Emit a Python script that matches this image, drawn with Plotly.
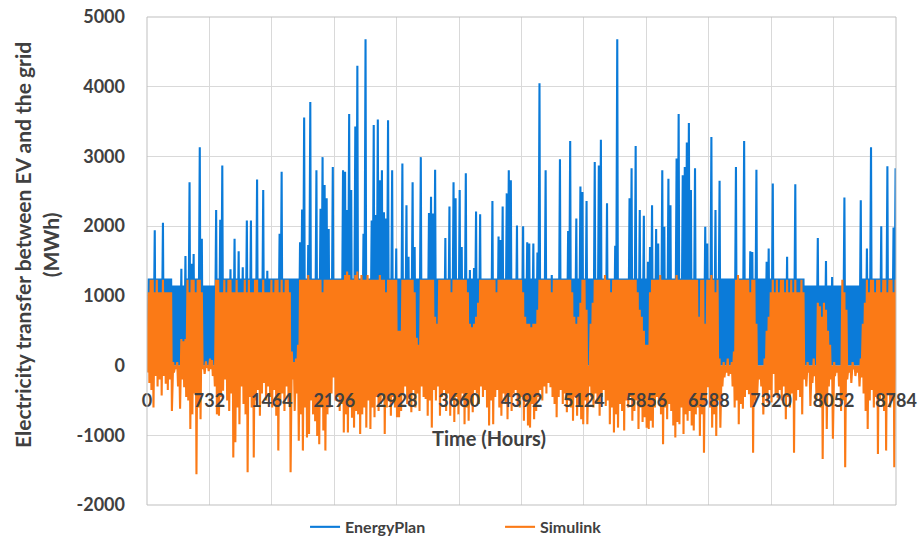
import plotly.graph_objects as go

# ---------------- data (one value per day) ----------------
# daily maximum / minimum of the hourly EnergyPlan series (MWh)
EP_hi = [
    1250, 1250, 1250, 1940, 1250, 1250, 1250, 2050, 1250, 1250,
    1250, 1250, 1150, 1150, 1150, 1150, 1390, 1150, 1570, 1250,
    2630, 1460, 1600, 1250, 1250, 3130, 1820, 1150, 1150, 1150,
    1150, 1150, 1150, 2230, 1250, 2090, 2870, 1250, 1250, 1250,
    1380, 1250, 1820, 1250, 1640, 1250, 1410, 1250, 2080, 1250,
    2080, 1250, 1250, 2670, 1250, 1250, 2520, 1250, 1360, 1250,
    1250, 1250, 1250, 1250, 1890, 2780, 1250, 1250, 1250, 1250,
    1250, 1250, 1250, 1250, 1770, 2240, 3560, 1250, 1730, 3780,
    1250, 1250, 2800, 1250, 2250, 2990, 2590, 2400, 1960, 1250,
    2850, 1250, 1250, 1250, 1250, 2800, 2780, 2230, 3610, 2520,
    1250, 3430, 4300, 1250, 1250, 1890, 4680, 1250, 1250, 2080,
    3450, 2160, 3530, 2660, 2800, 2200, 2110, 3520, 1250, 2800,
    1250, 1680, 1250, 1250, 2900, 1250, 2300, 1560, 1250, 2630,
    1700, 1250, 1250, 2990, 1250, 1250, 1250, 2190, 2420, 2180,
    2810, 1250, 1250, 1250, 1250, 1830, 1250, 2280, 1250, 2630,
    2400, 1250, 2520, 1700, 1250, 2760, 1250, 1370, 1250, 1400,
    2210, 1250, 2170, 1250, 1250, 1250, 1250, 1250, 2360, 1250,
    1250, 1850, 1800, 2280, 1250, 2470, 2800, 2660, 1250, 1250,
    2010, 1250, 1250, 2000, 1250, 1770, 1750, 1250, 1750, 1250,
    1620, 4050, 1250, 1250, 2800, 1250, 1250, 1300, 1250, 1250,
    1250, 2960, 1250, 1250, 1250, 1930, 3220, 1250, 1250, 2110,
    1250, 2570, 2490, 1250, 2360, 1250, 1250, 1250, 2920, 1250,
    2870, 3240, 1250, 1250, 2330, 1250, 1250, 1250, 1720, 4680,
    1250, 1250, 1250, 1250, 1250, 2400, 2830, 1250, 3150, 1250,
    2230, 1250, 2150, 1250, 1490, 1700, 2300, 1250, 1960, 1750,
    1250, 2800, 1990, 1250, 2680, 2300, 1250, 1250, 2970, 3610,
    1250, 2730, 2850, 3200, 3480, 2520, 1250, 2830, 1250, 1250,
    1250, 1250, 1990, 1750, 1250, 3280, 1250, 2230, 1250, 2650,
    1250, 1250, 1250, 1250, 1250, 1250, 1250, 2850, 1250, 1250,
    1250, 3220, 1250, 1250, 1640, 1630, 1250, 2810, 1250, 1250,
    1250, 1250, 1490, 1680, 1250, 2610, 1250, 1250, 1250, 1250,
    1250, 1250, 1560, 1250, 1250, 1250, 2600, 1250, 1250, 1250,
    1250, 1150, 1150, 1150, 1150, 1150, 1150, 1830, 1150, 1150,
    1150, 1500, 1150, 1150, 1270, 1150, 1150, 1150, 1150, 1150,
    2410, 1150, 1150, 1150, 1150, 1150, 1150, 1150, 2370, 1250,
    1250, 1680, 1250, 3130, 1250, 1250, 1250, 1250, 2000, 1250,
    1250, 2860, 1250, 1250, 1980, 2830,
]
EP_lo = [
    -50, 0, 0, 0, 0, 0, 0, 0, 0, 0, 0, 0, 0, 0, 0, 0, 0, 0, 0, 0,
    0, 0, 0, 0, 0, 0, 0, 0, 0, 0, 0, 0, 0, 0, 0, 0, 0, 0, 0, 0,
    0, 0, 0, 0, 0, 0, 0, 0, 0, 0, 0, 0, 0, 0, 0, 0, 0, 0, 0, 0,
    0, 0, 0, 0, 0, 0, 0, 0, 0, 0, 0, 0, 0, 0, 0, 0, 0, 0, 0, 0,
    0, 0, 0, 0, 0, 0, 0, 0, 0, 0, 0, 0, 0, 0, 0, 0, 0, 0, 0, 0,
    0, 0, 0, 0, 0, 0, 0, 0, 0, 0, 0, 0, 0, 0, 0, 0, 0, 0, 0, 0,
    0, 0, 0, 0, 0, 0, 0, 0, 0, 0, 0, 0, 0, 0, 0, 0, 0, 0, 0, 0,
    0, 0, 0, 0, 0, 0, 0, 0, 0, 0, 0, 0, 0, 0, 0, 0, 0, 0, 0, 0,
    0, 0, 0, 0, 0, 0, 0, 0, 0, 0, 0, 0, 0, 0, 0, 0, 0, 0, 0, 0,
    0, 0, 0, 0, 0, 0, 0, 0, 0, 0, 0, 0, 0, 0, 0, 0, 0, 0, 0, 0,
    0, 0, 0, 0, 0, 0, 0, 0, 0, 0, 0, 0, 0, 0, 0, 0, 0, 0, 0, 0,
    0, 0, 0, 0, 0, 0, 0, 0, 0, 0, 0, 0, 0, 0, 0, 0, 0, 0, 0, 0,
    0, 0, 0, 0, 0, 0, 0, 0, 0, 0, 0, 0, 0, 0, 0, 0, 0, 0, 0, 0,
    0, 0, 0, 0, 0, 0, 0, 0, 0, 0, 0, 0, 0, 0, 0, 0, 0, 0, 0, 0,
    0, 0, 0, 0, 0, 0, 0, 0, 0, 0, 0, 0, 0, 0, 0, 0, 0, 0, 0, 0,
    0, 0, 0, 0, 0, 0, 0, 0, 0, 0, 0, 0, 0, 0, 0, 0, 0, 0, 0, 0,
    0, 0, 0, 0, 0, 0, 0, 0, 0, 0, 0, 0, 0, 0, 0, 0, 0, 0, 0, 0,
    0, 0, 0, 0, 0, 0, 0, 0, 0, 0, 0, 0, 0, 0, 0, 0, 0, 0, 0, 0,
    0, 0, 0, 0, 0, 0,
]

# daily maximum / minimum of the hourly Simulink series (MWh)
SL_hi = [
    1050, 1230, 1230, 1050, 1230, 1050, 1050, 1230, 1050, 1050,
    1050, 1050, 50, 0, 50, 0, 380, 350, 380, 1230,
    1050, 1230, 1230, 1050, 1230, 1230, 1050, 0, 60, 0,
    100, 80, 0, 1230, 1230, 1050, 1050, 1230, 1050, 1230,
    1230, 1050, 1050, 1230, 1050, 1050, 1050, 1230, 1050, 1230,
    1050, 1050, 1230, 1230, 1050, 1050, 1230, 1050, 1050, 1050,
    1230, 1050, 1230, 1230, 1050, 1230, 1050, 1230, 1230, 1050,
    200, 50, 100, 300, 1230, 1230, 1230, 1230, 1300, 1230,
    1230, 1230, 1230, 1230, 1230, 1050, 1230, 1230, 1230, 1230,
    1230, 1230, 1230, 1230, 1230, 1230, 1300, 1350, 1300, 1230,
    1230, 1300, 1350, 1230, 1300, 1230, 1230, 1300, 1230, 1230,
    1230, 1230, 1230, 1300, 1230, 1230, 1050, 1230, 1230, 1230,
    1230, 1230, 500, 500, 1230, 1230, 1230, 1230, 1230, 1230,
    1050, 400, 300, 1230, 1230, 1230, 1230, 1230, 1230, 1230,
    700, 600, 1230, 1230, 1230, 1230, 1230, 1230, 1050, 1230,
    1230, 1230, 1230, 1230, 1230, 1230, 1050, 600, 550, 600,
    700, 900, 1230, 1230, 1230, 1230, 1230, 1230, 1230, 1230,
    1050, 1230, 1230, 1230, 1230, 1230, 1230, 1230, 1230, 1230,
    1230, 1230, 1230, 1050, 700, 600, 600, 550, 600, 600,
    800, 1230, 1230, 1230, 1230, 1230, 1230, 1050, 1230, 1230,
    1230, 1230, 1230, 1230, 1230, 1230, 1230, 1050, 700, 600,
    700, 900, 1230, 1230, 800, 0, 600, 900, 1230, 1230,
    1230, 1230, 1230, 1300, 1230, 1230, 1050, 1230, 1230, 1230,
    1230, 1230, 1230, 1230, 1230, 1230, 1230, 1230, 1230, 1050,
    800, 700, 500, 300, 300, 1050, 1230, 1230, 1230, 1230,
    1300, 1230, 1230, 1230, 1230, 1230, 1230, 1230, 1300, 1230,
    1230, 1230, 1230, 1230, 1230, 1230, 1230, 1230, 1230, 700,
    1230, 1230, 600, 1230, 1230, 1300, 1230, 1050, 1230, 100,
    0, 50, 0, 100, 0, 50, 200, 1230, 1300, 1230,
    1230, 1230, 1230, 1230, 1050, 1230, 1230, 600, 0, 0,
    0, 100, 500, 700, 1050, 1230, 1050, 1230, 1050, 1230,
    1230, 1050, 1230, 1050, 1230, 1050, 1230, 1050, 1050, 1230,
    1050, 0, 50, 0, 0, 100, 0, 900, 850, 700,
    900, 800, 500, 300, 0, 50, 0, 0, 0, 1230,
    1050, 800, 0, 0, 50, 0, 0, 0, 100, 600,
    900, 1230, 1050, 1230, 1230, 1050, 1230, 1230, 1050, 1230,
    1230, 1050, 1230, 1230, 1050, 1230,
]
SL_lo = [
    -100, -250, -350, -600, -150, -300, -200, -430, -150, -260,
    -350, -200, -650, -100, -50, -300, -620, -200, -310, -450,
    -500, -910, -700, -400, -1560, -600, -770, -50, -120, -30,
    -80, -50, -150, -300, -700, -720, -450, -360, -200, -500,
    -650, -400, -1320, -1100, -600, -840, -300, -550, -700, -1530,
    -450, -600, -1320, -500, -350, -720, -400, -250, -500, -300,
    -450, -600, -350, -720, -1220, -500, -400, -650, -300, -550,
    -1530, -200, -650, -400, -1080, -700, -1220, -600, -1030, -980,
    -500, -700, -800, -1010, -1130, -600, -930, -1220, -700, -600,
    -400, -170, -500, -450, -650, -550, -960, -700, -960, -600,
    -750, -890, -650, -700, -980, -700, -600, -890, -500, -910,
    -600, -740, -450, -650, -550, -400, -980, -600, -500, -720,
    -450, -600, -740, -740, -650, -400, -300, -550, -450, -670,
    -350, -600, -400, -650, -300, -450, -480, -720, -500, -890,
    -350, -500, -300, -720, -450, -350, -650, -400, -720, -500,
    -810, -450, -700, -550, -400, -840, -600, -790, -450, -670,
    -350, -400, -550, -300, -450, -350, -600, -860, -500, -840,
    -450, -350, -600, -720, -400, -550, -770, -450, -650, -400,
    -350, -580, -600, -450, -790, -500, -860, -890, -550, -770,
    -650, -450, -350, -500, -300, -400, -250, -310, -450, -550,
    -740, -450, -350, -550, -400, -670, -500, -600, -790, -450,
    -720, -550, -770, -840, -500, -840, -300, -450, -600, -400,
    -550, -720, -450, -350, -580, -500, -840, -600, -960, -700,
    -890, -550, -650, -930, -500, -600, -450, -790, -650, -500,
    -910, -600, -810, -740, -890, -910, -790, -890, -600, -450,
    -480, -700, -1130, -600, -770, -550, -650, -860, -1030, -810,
    -840, -600, -980, -700, -790, -650, -860, -930, -700, -600,
    -1010, -700, -1250, -500, -310, -600, -890, -700, -1010, -500,
    -890, -300, -170, -100, -150, -120, -300, -600, -500, -840,
    -550, -620, -450, -350, -410, -600, -1250, -500, -410, -200,
    -300, -700, -400, -530, -350, -530, -120, -400, -460, -350,
    -500, -300, -770, -450, -600, -400, -1250, -500, -350, -450,
    -700, -200, -300, -100, -580, -250, -150, -500, -400, -600,
    -1340, -450, -910, -300, -200, -1050, -150, -100, -300, -650,
    -500, -1460, -200, -100, -250, -50, -150, -100, -300, -170,
    -400, -650, -910, -500, -350, -600, -450, -1270, -500, -400,
    -650, -1220, -400, -600, -500, -1460,
]

HOURS_PER_DAY = 24
TROUGH_HOUR = 4              # hour of day of the daily minimum
PEAK_HOURS = (13, 19)        # hours of day over which the daily maximum holds

X_TICKS = [0, 732, 1464, 2196, 2928, 3660, 4392, 5124, 5856, 6588, 7320, 8052, 8784]
Y_TICKS = [-2000, -1000, 0, 1000, 2000, 3000, 4000, 5000]
X_RANGE = [0, 8784]
Y_RANGE = [-2000, 5000]

SERIES = [("EnergyPlan", EP_lo, EP_hi, "#0b7bd9"),
          ("Simulink", SL_lo, SL_hi, "#fb7a16")]

# ---------------- figure ----------------
TEXT = "#404040"
FONT = "Lato"

fig = go.Figure()
for name, lo, hi, color in SERIES:
    xs, ys = [], []
    for d in range(len(hi)):
        base = d * HOURS_PER_DAY
        xs += [base + TROUGH_HOUR, base + PEAK_HOURS[0], base + PEAK_HOURS[1]]
        ys += [lo[d], hi[d], hi[d]]
    fig.add_trace(go.Scatter(x=xs, y=ys, mode="lines", name=name,
                             line=dict(color=color, width=2.1)))

zero_pos = (0 - Y_RANGE[0]) / (Y_RANGE[1] - Y_RANGE[0])

fig.update_layout(
    width=919, height=541,
    margin=dict(l=147, r=23, t=17, b=36, autoexpand=False),
    paper_bgcolor="white", plot_bgcolor="white",
    font=dict(family=FONT, color=TEXT, size=16),
    showlegend=True,
    legend=dict(orientation="h", x=0.211, xanchor="left",
                yref="container", y=0.026, yanchor="middle",
                font=dict(family=FONT, size=16, color=TEXT, weight="bold"),
                entrywidth=150, entrywidthmode="pixels", bgcolor="rgba(0,0,0,0)"),
    xaxis=dict(range=X_RANGE, tickvals=X_TICKS, ticktext=[str(v) for v in X_TICKS],
               showgrid=True, gridcolor="#d9d9d9", gridwidth=1,
               zeroline=False, showline=False, ticks="", automargin=False,
               anchor="free", position=zero_pos, ticklabelstandoff=22,
               tickfont=dict(family=FONT, size=18, color=TEXT, weight="bold")),
    yaxis=dict(range=Y_RANGE, tickvals=Y_TICKS, ticktext=[str(v) for v in Y_TICKS],
               showgrid=True, gridcolor="#d9d9d9", gridwidth=1,
               zeroline=False, showline=False, ticks="", automargin=False,
               ticklabelstandoff=21,
               tickfont=dict(family=FONT, size=18, color=TEXT, weight="bold")),
    shapes=[dict(type="rect", xref="paper", yref="paper", x0=0, y0=0, x1=1, y1=1,
                 line=dict(color="#bfbfbf", width=1), fillcolor="rgba(0,0,0,0)",
                 layer="above")],
    annotations=[
        dict(text="Time (Hours)", xref="paper", yref="paper", x=0.457, y=0.137,
             xanchor="center", yanchor="middle",
             showarrow=False, font=dict(family=FONT, size=20, color=TEXT, weight="bold")),
        dict(text="Electricity transfer between EV and the grid<br>(MWh)",
             xref="paper", yref="paper", x=-0.148, y=0.533, textangle=-90,
             xanchor="center", yanchor="middle",
             showarrow=False, font=dict(family=FONT, size=21, color=TEXT, weight="bold")),
    ],
)

fig.write_html("out.html")
